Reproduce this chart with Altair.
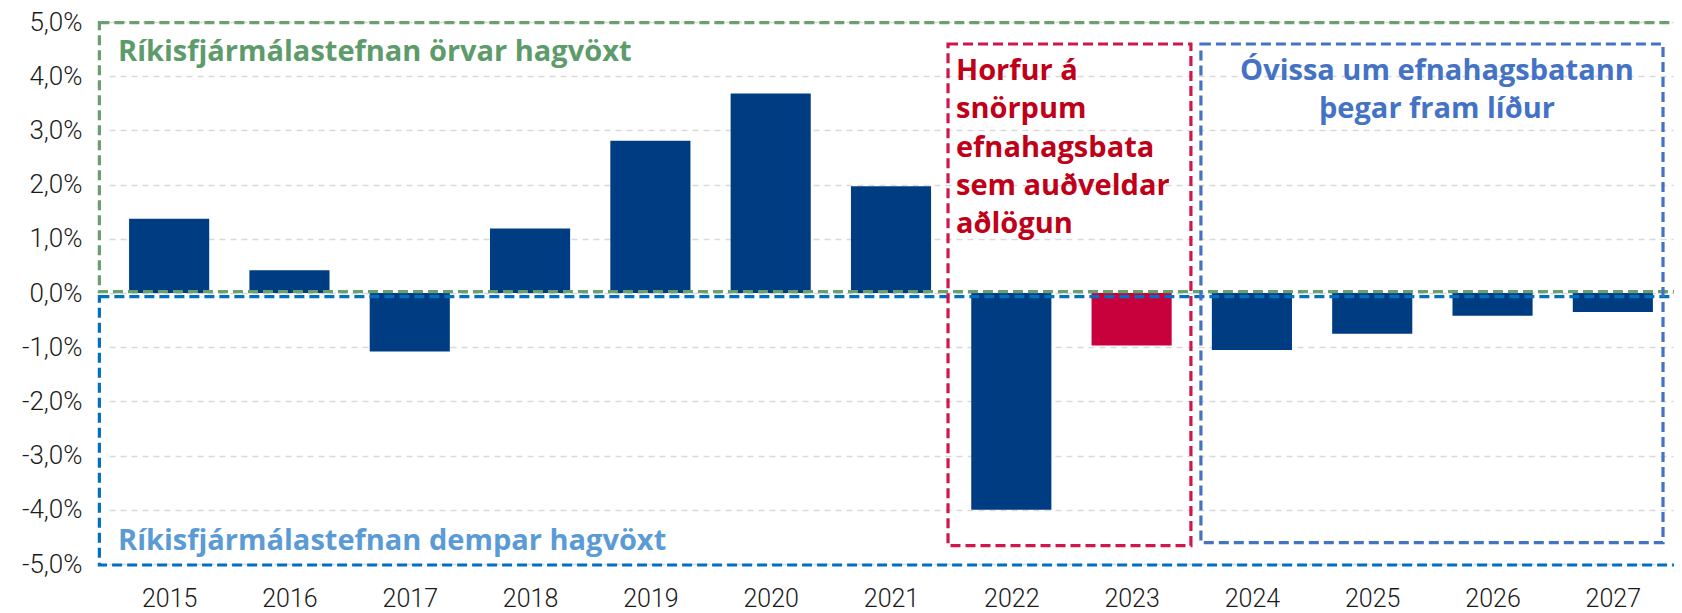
import altair as alt
import pandas as pd

# ---------------- data ----------------
years = [2015, 2016, 2017, 2018, 2019, 2020, 2021, 2022, 2023, 2024, 2025, 2026, 2027]
growth = [1.37, 0.42, -1.08, 1.19, 2.81, 3.68, 1.97, -4.00, -0.97, -1.05, -0.75, -0.42, -0.35]
y_ticks = [-5, -4, -3, -2, -1, 0, 1, 2, 3, 4, 5]
highlight_year = 2023

# annotation boxes (data units: year / percent)
box_names = ["orvar", "dempar", "horfur", "ovissa"]
box_left = [2014.42, 2014.42, 2021.474, 2023.576]
box_right = [2027.8, 2027.8, 2023.493, 2027.417]
box_top = [4.99, -0.068, 4.594, 4.594]
box_bottom = [0.024, -5.018, -4.662, -4.607]

# left-aligned annotation lines
label_text = [
    "Ríkisfjármálastefnan örvar hagvöxt",
    "Ríkisfjármálastefnan dempar hagvöxt",
    "Horfur á",
    "snörpum",
    "efnahagsbata",
    "sem auðveldar",
    "aðlögun",
]
label_x = [2014.575, 2014.575, 2021.54, 2021.54, 2021.54, 2021.54, 2021.54]
label_y = [4.286, -4.742, 3.930, 3.223, 2.515, 1.808, 1.101]
label_group = ["orvar", "dempar", "horfur", "horfur", "horfur", "horfur", "horfur"]

# centred annotation lines
center_text = ["Óvissa um efnahagsbatann", "þegar fram líður"]
center_x = [2025.538, 2025.538]
center_y = [3.930, 3.223]
center_group = ["ovissa", "ovissa"]

# ---------------- styling ----------------
X_DOMAIN = [2014.5, 2027.5]
Y_DOMAIN = [-5, 5]
HALF_BAR = 0.333
AXIS_FONT = "Roboto"
ANNOT_FONT = "Open Sans"

box_colors = ["#6A9F71", "#0070C0", "#D0174D", "#4472C4"]
text_colors = ["#5E9B6A", "#5B9BD5", "#C00018", "#4472C4"]

xs = alt.Scale(domain=X_DOMAIN, nice=False, zero=False)
ys = alt.Scale(domain=Y_DOMAIN, nice=False, zero=False)

x_axis = alt.Axis(
    values=years, format="d", title=None, grid=False, domain=False, ticks=False,
    labelFont=AXIS_FONT, labelFontSize=25, labelFontWeight=300, labelColor="#1a1a1a",
    labelPadding=22, labelBaseline="top",
)
y_axis = alt.Axis(
    values=y_ticks, title=None, grid=True, gridColor="#D9D9D9", gridDash=[6, 5],
    gridWidth=1.5, domain=False, ticks=False,
    labelExpr="replace(replace(format(datum.value, '.1f'), '.', ','), '\u2212', '-') + '%'",
    labelFont=AXIS_FONT, labelFontSize=26, labelFontWeight=300, labelColor="#1a1a1a",
    labelPadding=27,
)

df = pd.DataFrame({"year": years, "value": growth})
boxes_df = pd.DataFrame({"name": box_names, "x0": box_left, "x1": box_right,
                         "y0": box_bottom, "y1": box_top})
labels_df = pd.DataFrame({"text": label_text, "x": label_x, "y": label_y, "group": label_group})
center_df = pd.DataFrame({"text": center_text, "x": center_x, "y": center_y, "group": center_group})

bars = alt.Chart(df).transform_calculate(
    x0=f"datum.year - {HALF_BAR}", x1=f"datum.year + {HALF_BAR}"
).mark_bar().encode(
    x=alt.X("x0:Q", scale=xs, axis=x_axis),
    x2="x1:Q",
    y=alt.Y("value:Q", scale=ys, axis=y_axis),
    y2=alt.datum(0),
    color=alt.condition(f"datum.year == {highlight_year}", alt.value("#C8003C"), alt.value("#003C82")),
)

boxes = alt.Chart(boxes_df).mark_rect(filled=False, strokeWidth=3.2, strokeDash=[10, 5]).encode(
    x=alt.X("x0:Q", scale=xs, axis=x_axis),
    x2="x1:Q",
    y=alt.Y("y0:Q", scale=ys, axis=y_axis),
    y2="y1:Q",
    stroke=alt.Stroke("name:N", scale=alt.Scale(domain=box_names, range=box_colors), legend=None),
)

text_left = alt.Chart(labels_df).mark_text(
    align="left", baseline="alphabetic", font=ANNOT_FONT, fontWeight="bold", fontSize=29
).encode(
    x=alt.X("x:Q", scale=xs, axis=x_axis),
    y=alt.Y("y:Q", scale=ys, axis=y_axis),
    text="text:N",
    fill=alt.Fill("group:N", scale=alt.Scale(domain=box_names, range=text_colors), legend=None),
)

text_center = alt.Chart(center_df).mark_text(
    align="center", baseline="alphabetic", font=ANNOT_FONT, fontWeight="bold", fontSize=29
).encode(
    x=alt.X("x:Q", scale=xs, axis=x_axis),
    y=alt.Y("y:Q", scale=ys, axis=y_axis),
    text="text:N",
    fill=alt.Fill("group:N", scale=alt.Scale(domain=box_names, range=text_colors), legend=None),
)

chart = alt.layer(bars, boxes, text_left, text_center).properties(
    width=1564, height=542,
    padding={"left": 101, "top": 14, "right": 1, "bottom": 48},
    autosize=alt.AutoSizeParams(type="none"),
    background="white",
).configure_view(stroke=None)

chart.save("out.html", embed_options={"renderer": "svg", "actions": False})
